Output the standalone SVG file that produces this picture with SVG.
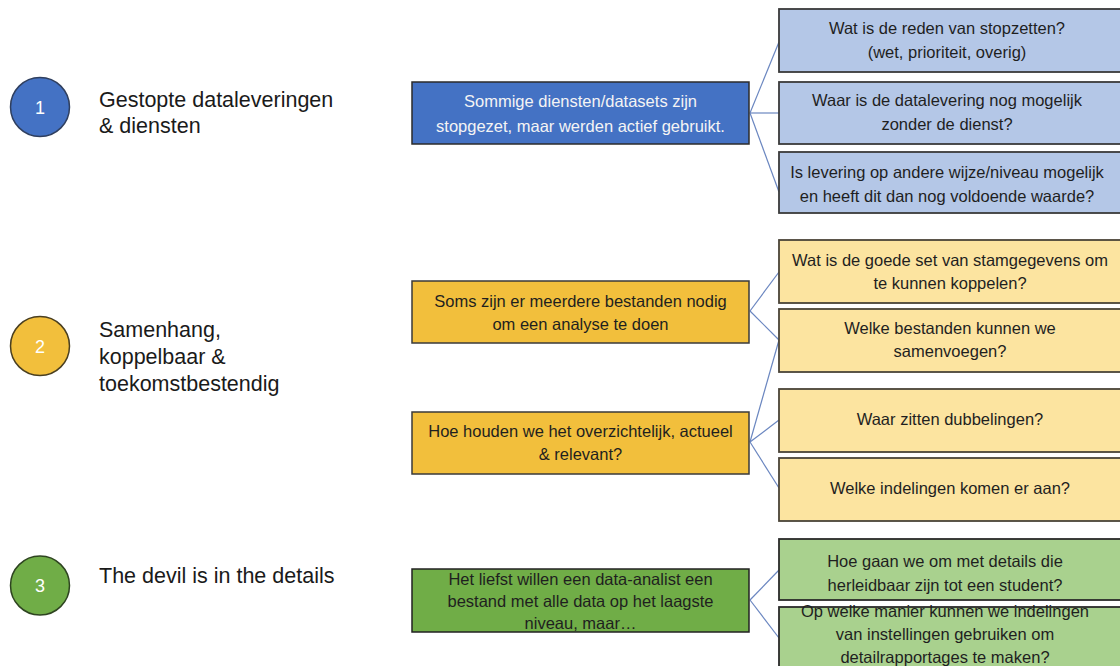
<svg xmlns="http://www.w3.org/2000/svg" width="1120" height="666" viewBox="0 0 1120 666">
<style>
text{font-family:"Liberation Sans",Arial,sans-serif;}
.lbl{font-size:21.5px;fill:#1a1a1a;}
.num{font-size:18px;fill:#ffffff;text-anchor:middle;}
.t{font-size:16.5px;text-anchor:middle;fill:#1f1f1f;}
.tw{fill:#f4f4f4;}
.c1{fill:#4472C4;stroke:#2F3F5F;stroke-width:1.5;}
.c2{fill:#F2BF3C;stroke:#4A3F20;stroke-width:1.5;}
.c3{fill:#70AD47;stroke:#2E4420;stroke-width:1.5;}
.mb{fill:#4472C4;stroke:#2B2B2B;stroke-width:1.5;}
.my{fill:#F2BF3C;stroke:#3A3A3A;stroke-width:1.5;}
.mg{fill:#70AD47;stroke:#222222;stroke-width:1.5;}
.rb{fill:#B4C7E7;stroke:#3A3A3A;stroke-width:1.8;}
.ry{fill:#FCE4A0;stroke:#4A4438;stroke-width:1.8;}
.rg{fill:#A9D18E;stroke:#2A2A2A;stroke-width:1.8;}
.con line{stroke:#6A86C0;stroke-width:1.2;}
</style>
<rect width="1120" height="666" fill="#ffffff"/>

<g id="cat1">
<circle class="c1" cx="40" cy="107" r="29.5"/>
<text class="num" x="40" y="113.5">1</text>
<text class="lbl" x="99" y="107">Gestopte dataleveringen</text>
<text class="lbl" x="99" y="133">&amp; diensten</text>
</g>
<g id="cat2">
<circle class="c2" cx="40" cy="346" r="29.5"/>
<text class="num" x="40" y="352.5">2</text>
<text class="lbl" x="99" y="337">Samenhang,</text>
<text class="lbl" x="99" y="364">koppelbaar &amp;</text>
<text class="lbl" x="99" y="391">toekomstbestendig</text>
</g>
<g id="cat3">
<circle class="c3" cx="40" cy="585.5" r="29.5"/>
<text class="num" x="40" y="592">3</text>
<text class="lbl" x="99" y="583">The devil is in the details</text>
</g>

<g class="con" id="connectors">
<line x1="750" y1="113" x2="779" y2="42"/>
<line x1="750" y1="113" x2="779" y2="113"/>
<line x1="750" y1="113" x2="779" y2="192"/>
<line x1="750" y1="311" x2="779" y2="272"/>
<line x1="750" y1="311" x2="779" y2="340"/>
<line x1="750" y1="442" x2="779" y2="340"/>
<line x1="750" y1="442" x2="779" y2="420"/>
<line x1="750" y1="442" x2="779" y2="488"/>
<line x1="750" y1="600" x2="779" y2="570"/>
<line x1="750" y1="600" x2="779" y2="638"/>
</g>

<g id="m1">
<rect class="mb" x="412" y="82" width="337" height="62"/>
<text class="t tw" x="580.5" y="106.5">Sommige diensten/datasets zijn</text>
<text class="t tw" x="580.5" y="131.5">stopgezet, maar werden actief gebruikt.</text>
</g>
<g id="m2">
<rect class="my" x="412" y="281" width="337" height="62"/>
<text class="t" x="580.5" y="306.5">Soms zijn er meerdere bestanden nodig</text>
<text class="t" x="580.5" y="329.5">om een analyse te doen</text>
</g>
<g id="m3">
<rect class="my" x="412" y="412" width="337" height="62"/>
<text class="t" x="580.5" y="437">Hoe houden we het overzichtelijk, actueel</text>
<text class="t" x="580.5" y="460">&amp; relevant?</text>
</g>
<g id="m4">
<rect class="mg" x="412" y="569" width="337" height="63"/>
<text class="t" x="580.5" y="585">Het liefst willen een data-analist een</text>
<text class="t" x="580.5" y="607">bestand met alle data op het laagste</text>
<text class="t" x="580.5" y="629">niveau, maar…</text>
</g>

<g id="r1">
<rect class="rb" x="779" y="9" width="346" height="63"/>
<text class="t" x="947" y="34">Wat is de reden van stopzetten?</text>
<text class="t" x="947" y="57.5">(wet, prioriteit, overig)</text>
</g>
<g id="r2">
<rect class="rb" x="779" y="82" width="346" height="62"/>
<text class="t" x="947" y="106">Waar is de datalevering nog mogelijk</text>
<text class="t" x="947" y="129.5">zonder de dienst?</text>
</g>
<g id="r3">
<rect class="rb" x="779" y="152" width="346" height="61"/>
<text class="t" x="947" y="178">Is levering op andere wijze/niveau mogelijk</text>
<text class="t" x="947" y="202">en heeft dit dan nog voldoende waarde?</text>
</g>
<g id="r4">
<rect class="ry" x="779" y="240" width="346" height="63"/>
<text class="t" x="950" y="266">Wat is de goede set van stamgegevens om</text>
<text class="t" x="950" y="288.5">te kunnen koppelen?</text>
</g>
<g id="r5">
<rect class="ry" x="779" y="309" width="346" height="63"/>
<text class="t" x="950" y="334">Welke bestanden kunnen we</text>
<text class="t" x="950" y="357">samenvoegen?</text>
</g>
<g id="r6">
<rect class="ry" x="779" y="389" width="346" height="63"/>
<text class="t" x="950" y="425">Waar zitten dubbelingen?</text>
</g>
<g id="r7">
<rect class="ry" x="779" y="458" width="346" height="63"/>
<text class="t" x="950" y="493.5">Welke indelingen komen er aan?</text>
</g>
<g id="r8">
<rect class="rg" x="779" y="539" width="346" height="61"/>
<text class="t" x="945" y="567">Hoe gaan we om met details die</text>
<text class="t" x="945" y="590.5">herleidbaar zijn tot een student?</text>
</g>
<g id="r9">
<rect class="rg" x="779" y="607" width="346" height="70"/>
<text class="t" x="945" y="617">Op welke manier kunnen we indelingen</text>
<text class="t" x="945" y="640">van instellingen gebruiken om</text>
<text class="t" x="945" y="663">detailrapportages te maken?</text>
</g>
</svg>
